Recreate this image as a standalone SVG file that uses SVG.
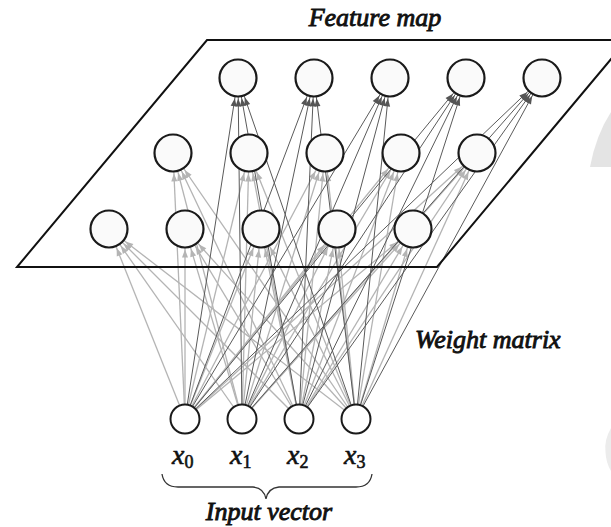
<svg xmlns="http://www.w3.org/2000/svg" width="611" height="527" viewBox="0 0 611 527">
<style>
.lt{stroke:#b4b4b4;stroke-width:1.3;marker-end:url(#al)}
.dk{stroke:#5a5a5a;stroke-width:1;marker-end:url(#ad)}
.fn{fill:#fafafa;stroke:#1a1a1a;stroke-width:2.2}
.in{fill:#fff;stroke:#1a1a1a;stroke-width:2}
.lbl{font-family:"Liberation Serif",serif;font-style:italic;font-size:26px;fill:#111;stroke:#111;stroke-width:0.9}
.xl{font-family:"Liberation Serif",serif;font-style:italic;font-size:28px;fill:#111;stroke:#111;stroke-width:0.6}
.sub{font-style:normal;font-size:18px}
</style>
<defs>
<marker id="al" markerUnits="userSpaceOnUse" markerWidth="10" markerHeight="10" refX="20.5" refY="0" orient="auto" overflow="visible"><path d="M0,0 L-8,-3 L-8,3 Z" fill="#b4b4b4"/></marker>
<marker id="ad" markerUnits="userSpaceOnUse" markerWidth="10" markerHeight="10" refX="20.5" refY="0" orient="auto" overflow="visible"><path d="M0,0 L-8,-3 L-8,3 Z" fill="#555"/></marker>
</defs>
<rect width="611" height="527" fill="#fff"/>
<path d="M590,167 Q596,135 611,112 L611,167 Z" fill="#e4e4e4"/>
<path d="M611,428 Q604,440 605.5,452 Q606,463 611,471 Z" fill="#ececec"/>
<g id="connectors">
<line class="lt" x1="185" y1="419" x2="109" y2="229"/><line class="lt" x1="185" y1="419" x2="185" y2="229"/><line class="lt" x1="185" y1="419" x2="261" y2="229"/><line class="lt" x1="185" y1="419" x2="337" y2="229"/><line class="lt" x1="185" y1="419" x2="413" y2="229"/>
<line class="lt" x1="242" y1="419" x2="109" y2="229"/><line class="lt" x1="242" y1="419" x2="185" y2="229"/><line class="lt" x1="242" y1="419" x2="261" y2="229"/><line class="lt" x1="242" y1="419" x2="337" y2="229"/><line class="lt" x1="242" y1="419" x2="413" y2="229"/>
<line class="lt" x1="299" y1="419" x2="109" y2="229"/><line class="lt" x1="299" y1="419" x2="185" y2="229"/><line class="lt" x1="299" y1="419" x2="261" y2="229"/><line class="lt" x1="299" y1="419" x2="337" y2="229"/><line class="lt" x1="299" y1="419" x2="413" y2="229"/>
<line class="lt" x1="356" y1="419" x2="109" y2="229"/><line class="lt" x1="356" y1="419" x2="185" y2="229"/><line class="lt" x1="356" y1="419" x2="261" y2="229"/><line class="lt" x1="356" y1="419" x2="337" y2="229"/><line class="lt" x1="356" y1="419" x2="413" y2="229"/>
<line class="lt" x1="185" y1="419" x2="173" y2="153"/><line class="lt" x1="185" y1="419" x2="249" y2="153"/><line class="lt" x1="185" y1="419" x2="325" y2="153"/><line class="lt" x1="185" y1="419" x2="401" y2="153"/><line class="lt" x1="185" y1="419" x2="477" y2="153"/>
<line class="lt" x1="242" y1="419" x2="173" y2="153"/><line class="lt" x1="242" y1="419" x2="249" y2="153"/><line class="lt" x1="242" y1="419" x2="325" y2="153"/><line class="lt" x1="242" y1="419" x2="401" y2="153"/><line class="lt" x1="242" y1="419" x2="477" y2="153"/>
<line class="lt" x1="299" y1="419" x2="173" y2="153"/><line class="lt" x1="299" y1="419" x2="249" y2="153"/><line class="lt" x1="299" y1="419" x2="325" y2="153"/><line class="lt" x1="299" y1="419" x2="401" y2="153"/><line class="lt" x1="299" y1="419" x2="477" y2="153"/>
<line class="lt" x1="356" y1="419" x2="173" y2="153"/><line class="lt" x1="356" y1="419" x2="249" y2="153"/><line class="lt" x1="356" y1="419" x2="325" y2="153"/><line class="lt" x1="356" y1="419" x2="401" y2="153"/><line class="lt" x1="356" y1="419" x2="477" y2="153"/>
<line class="dk" x1="185" y1="419" x2="238" y2="78"/><line class="dk" x1="185" y1="419" x2="314" y2="78"/><line class="dk" x1="185" y1="419" x2="390" y2="78"/><line class="dk" x1="185" y1="419" x2="466" y2="78"/><line class="dk" x1="185" y1="419" x2="542" y2="78"/>
<line class="dk" x1="242" y1="419" x2="238" y2="78"/><line class="dk" x1="242" y1="419" x2="314" y2="78"/><line class="dk" x1="242" y1="419" x2="390" y2="78"/><line class="dk" x1="242" y1="419" x2="466" y2="78"/><line class="dk" x1="242" y1="419" x2="542" y2="78"/>
<line class="dk" x1="299" y1="419" x2="238" y2="78"/><line class="dk" x1="299" y1="419" x2="314" y2="78"/><line class="dk" x1="299" y1="419" x2="390" y2="78"/><line class="dk" x1="299" y1="419" x2="466" y2="78"/><line class="dk" x1="299" y1="419" x2="542" y2="78"/>
<line class="dk" x1="356" y1="419" x2="238" y2="78"/><line class="dk" x1="356" y1="419" x2="314" y2="78"/><line class="dk" x1="356" y1="419" x2="390" y2="78"/><line class="dk" x1="356" y1="419" x2="466" y2="78"/><line class="dk" x1="356" y1="419" x2="542" y2="78"/>
</g>
<g id="feature-map-plane">
<polygon points="207,40 627,40 437,267 17,267" fill="none" stroke="#111" stroke-width="2"/>
<text class="lbl" x="375" y="26" text-anchor="middle">Feature map</text>
</g>
<g id="f-top-0"><circle class="fn" cx="238" cy="78" r="18.5"/></g>
<g id="f-top-1"><circle class="fn" cx="314" cy="78" r="18.5"/></g>
<g id="f-top-2"><circle class="fn" cx="390" cy="78" r="18.5"/></g>
<g id="f-top-3"><circle class="fn" cx="466" cy="78" r="18.5"/></g>
<g id="f-top-4"><circle class="fn" cx="542" cy="78" r="18.5"/></g>
<g id="f-mid-0"><circle class="fn" cx="173" cy="153" r="18.5"/></g>
<g id="f-mid-1"><circle class="fn" cx="249" cy="153" r="18.5"/></g>
<g id="f-mid-2"><circle class="fn" cx="325" cy="153" r="18.5"/></g>
<g id="f-mid-3"><circle class="fn" cx="401" cy="153" r="18.5"/></g>
<g id="f-mid-4"><circle class="fn" cx="477" cy="153" r="18.5"/></g>
<g id="f-bot-0"><circle class="fn" cx="109" cy="229" r="18.5"/></g>
<g id="f-bot-1"><circle class="fn" cx="185" cy="229" r="18.5"/></g>
<g id="f-bot-2"><circle class="fn" cx="261" cy="229" r="18.5"/></g>
<g id="f-bot-3"><circle class="fn" cx="337" cy="229" r="18.5"/></g>
<g id="f-bot-4"><circle class="fn" cx="413" cy="229" r="18.5"/></g>
<g id="x0"><circle class="in" cx="185" cy="419" r="14.5"/><text class="xl" x="172" y="464">x<tspan class="sub" dy="4">0</tspan></text></g>
<g id="x1"><circle class="in" cx="242" cy="419" r="14.5"/><text class="xl" x="230" y="464">x<tspan class="sub" dy="4">1</tspan></text></g>
<g id="x2"><circle class="in" cx="299" cy="419" r="14.5"/><text class="xl" x="287" y="464">x<tspan class="sub" dy="4">2</tspan></text></g>
<g id="x3"><circle class="in" cx="356" cy="419" r="14.5"/><text class="xl" x="344" y="464">x<tspan class="sub" dy="4">3</tspan></text></g>
<g id="weight-matrix-label"><text class="lbl" x="415" y="348">Weight matrix</text></g>
<g id="input-vector">
<path d="M162,474 Q164,487 178,487 L253,487 Q264,488 266,499 Q268,488 279,487 L356,487 Q370,487 372,474" fill="none" stroke="#333" stroke-width="1.3"/>
<text class="lbl" x="269" y="520" text-anchor="middle">Input vector</text>
</g>
</svg>
